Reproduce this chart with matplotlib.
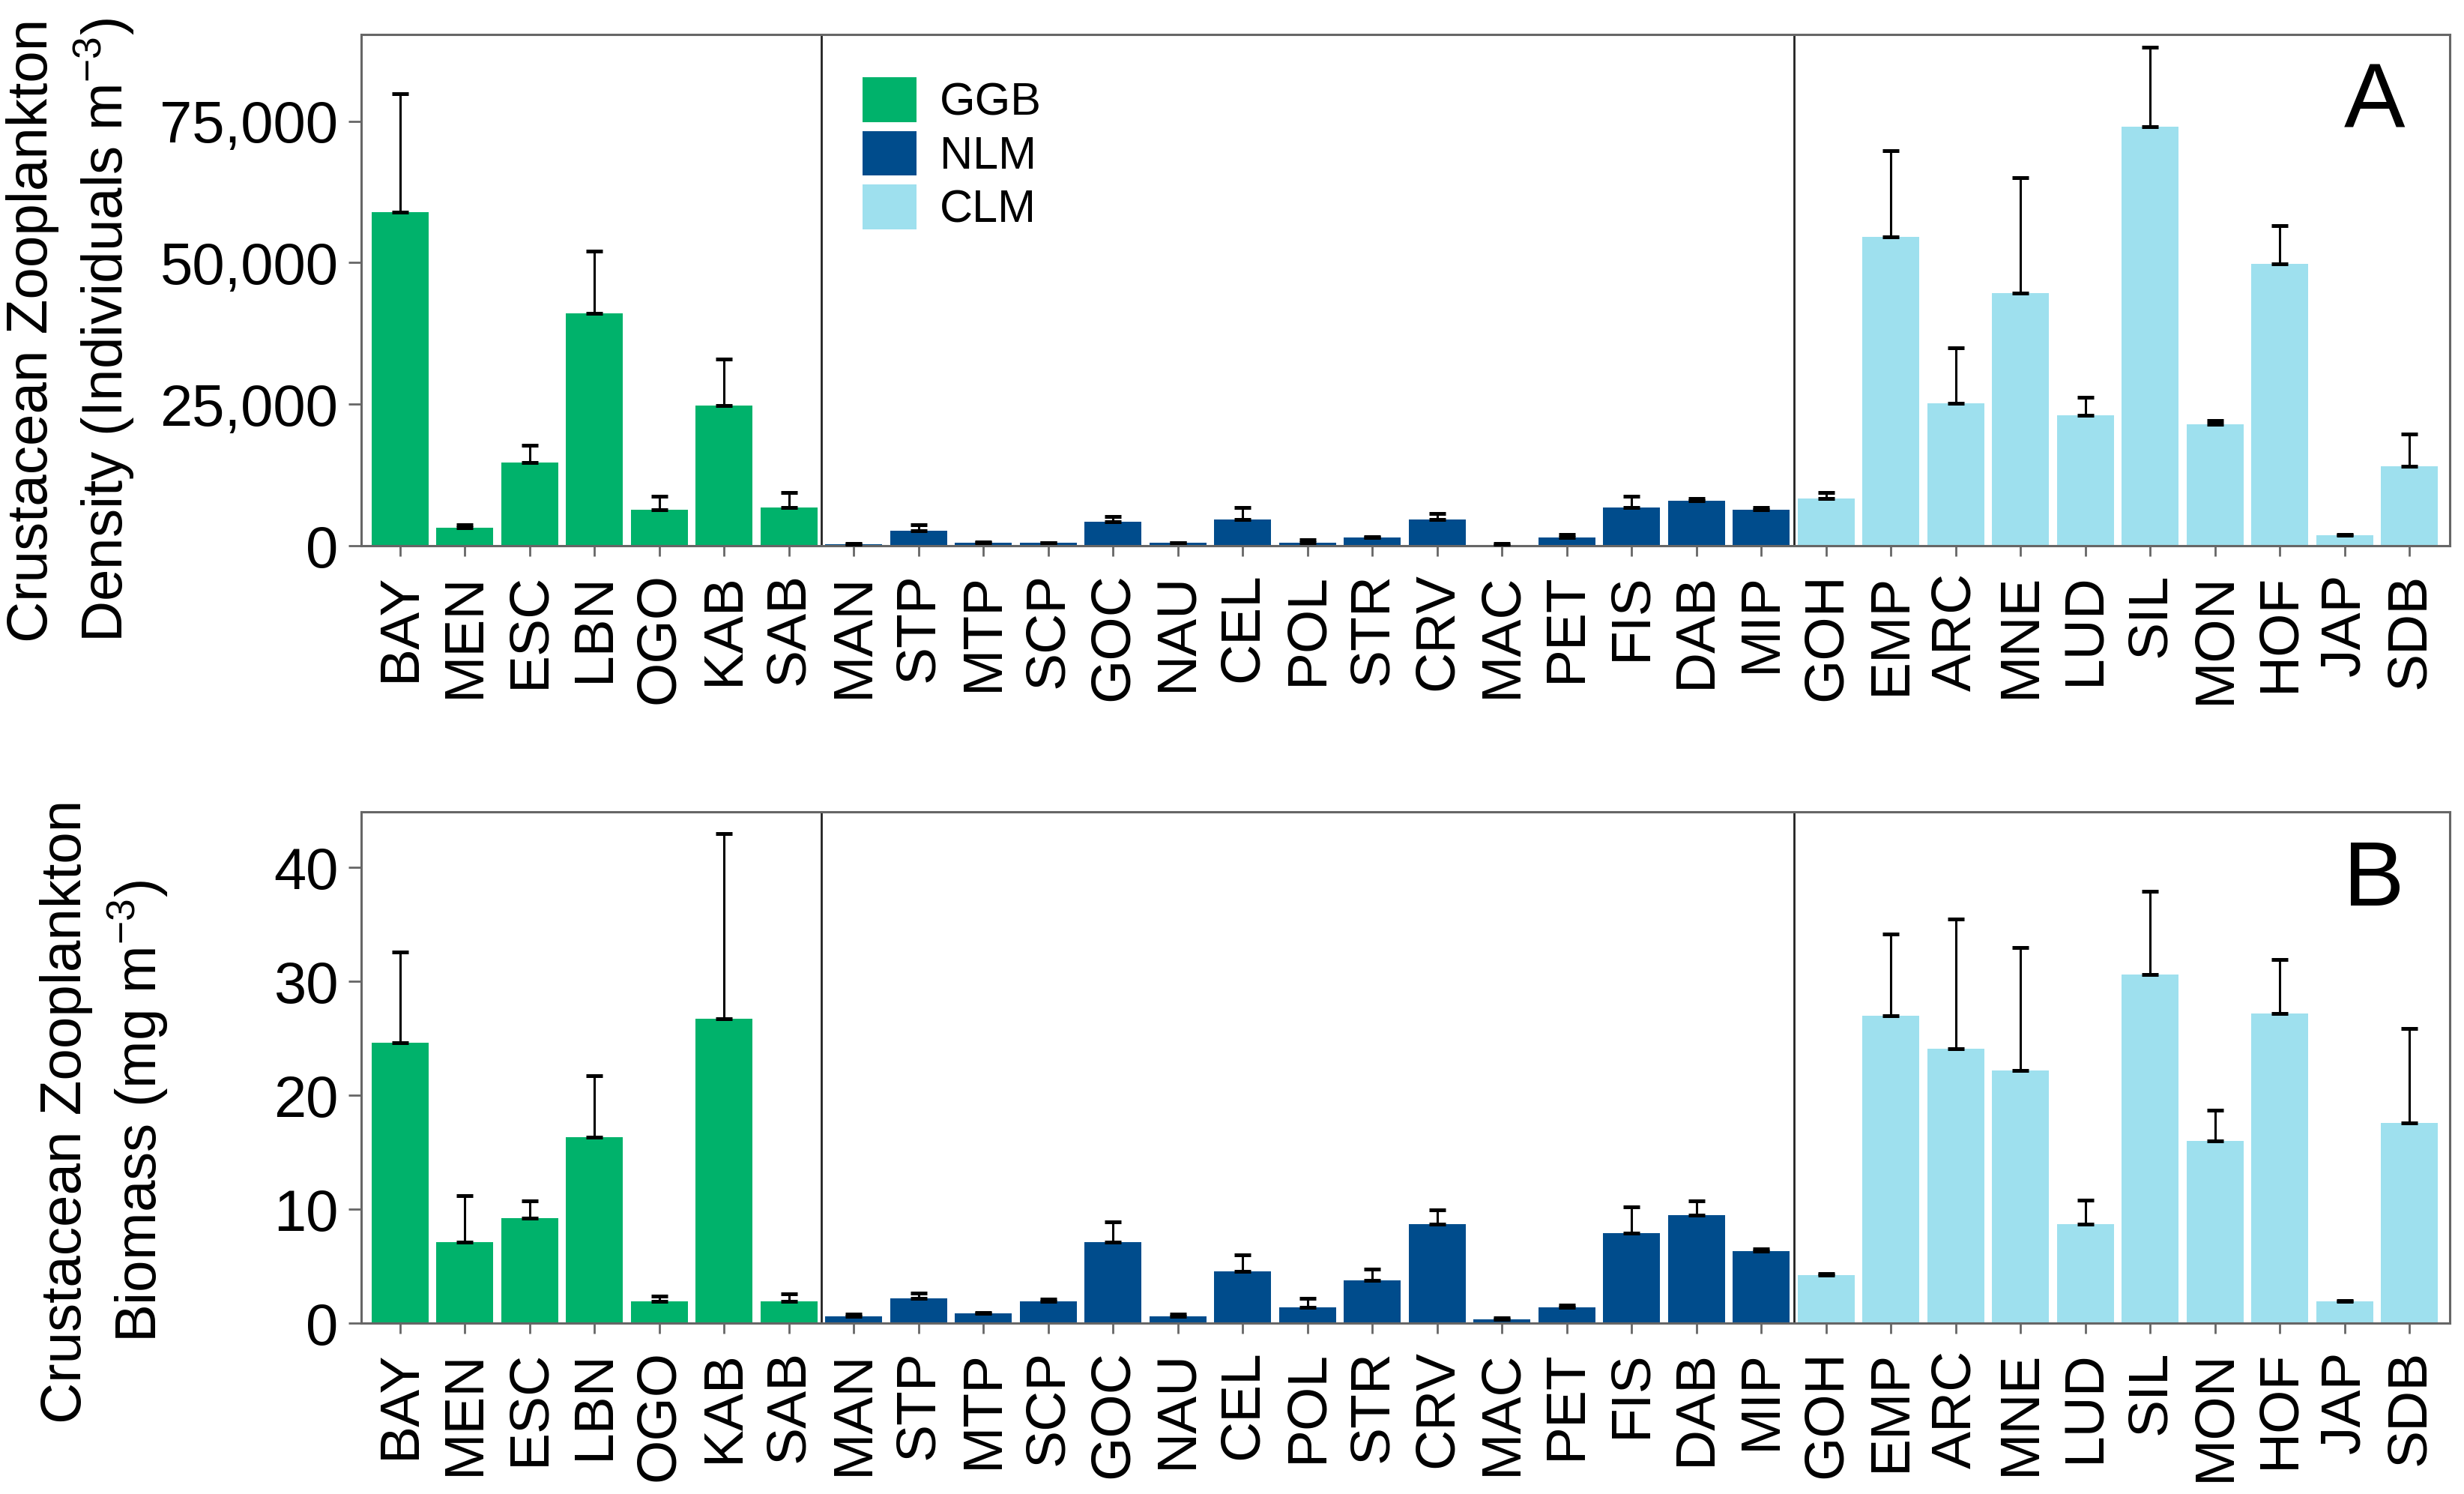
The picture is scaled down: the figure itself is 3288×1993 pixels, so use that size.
import numpy as np
import matplotlib
matplotlib.use('Agg')
import matplotlib.pyplot as plt
from matplotlib.patches import Patch
from matplotlib.ticker import FuncFormatter

plt.rcParams['font.family'] = ['Liberation Sans', 'DejaVu Sans']
plt.rcParams['mathtext.fontset'] = 'custom'
plt.rcParams['mathtext.rm'] = 'Liberation Sans'
plt.rcParams['mathtext.it'] = 'Liberation Sans'

# lake groups
ggb_sites = ['BAY', 'MEN', 'ESC', 'LBN', 'OGO', 'KAB', 'SAB']
nlm_sites = ['MAN', 'STP', 'MTP', 'SCP', 'GOC', 'NAU', 'CEL', 'POL', 'STR', 'CRV', 'MAC', 'PET', 'FIS', 'DAB', 'MIP']
clm_sites = ['GOH', 'EMP', 'ARC', 'MNE', 'LUD', 'SIL', 'MON', 'HOF', 'JAP', 'SDB']

# density (individuals m-3), mean and upper error
dens_ggb = [58900, 3200, 14700, 41000, 6300, 24700, 6800]
dens_ggb_se = [21000, 500, 3000, 11000, 2400, 8300, 2600]
dens_nlm = [300, 2700, 500, 500, 4200, 500, 4700, 500, 1500, 4700, 200, 1500, 6800, 7900, 6300]
dens_nlm_se = [150, 1000, 150, 100, 950, 100, 2100, 550, 100, 1000, 150, 500, 1900, 400, 400]
dens_clm = [8400, 54600, 25100, 44600, 23000, 74000, 21500, 49800, 1900, 14000]
dens_clm_se = [1000, 15200, 9900, 20400, 3200, 14100, 600, 6800, 100, 5800]

# biomass (mg m-3), mean and upper error
bio_ggb = [24.6, 7.1, 9.2, 16.3, 1.9, 26.7, 1.9]
bio_ggb_se = [8.0, 4.1, 1.5, 5.4, 0.45, 16.3, 0.7]
bio_nlm = [0.6, 2.2, 0.85, 1.9, 7.1, 0.6, 4.55, 1.4, 3.75, 8.7, 0.3, 1.4, 7.9, 9.5, 6.3]
bio_nlm_se = [0.2, 0.45, 0.05, 0.2, 1.8, 0.2, 1.45, 0.75, 1.0, 1.25, 0.15, 0.2, 2.3, 1.25, 0.2]
bio_clm = [4.2, 27.0, 24.1, 22.2, 8.7, 30.6, 16.0, 27.2, 1.9, 17.6]
bio_clm_se = [0.15, 7.2, 11.4, 10.8, 2.1, 7.3, 2.7, 4.7, 0.1, 8.3]

group_names = ['GGB', 'NLM', 'CLM']
group_colors = ['#00b26b', '#004c8c', '#9ee0ee']

sites = ggb_sites + nlm_sites + clm_sites
x = np.arange(len(sites))
n1 = len(ggb_sites)
n2 = len(ggb_sites) + len(nlm_sites)
colors = [group_colors[0]] * len(ggb_sites) + [group_colors[1]] * len(nlm_sites) + [group_colors[2]] * len(clm_sites)

fig = plt.figure(figsize=(16.44, 9.965), dpi=200)
ax1 = fig.add_axes([0.1466, 0.6347, 0.8476, 0.3422])
ax2 = fig.add_axes([0.1466, 0.1144, 0.8476, 0.3422])


def draw_panel(ax, vals, errs, ymax, yticks, letter):
    vals = np.array(vals)
    errs = np.array(errs)
    ax.bar(x, vals, width=0.88, color=colors, zorder=2,
           yerr=[np.zeros_like(errs), errs],
           error_kw=dict(ecolor='black', elinewidth=1.1, capsize=4, capthick=1.8, zorder=3))
    ax.axvline(n1 - 0.5, color='#222222', lw=1.0, zorder=1)
    ax.axvline(n2 - 0.5, color='#222222', lw=1.0, zorder=1)
    ax.set_xlim(-0.6, len(sites) - 1 + 0.62)
    ax.set_ylim(0, ymax)
    ax.set_yticks(yticks)
    ax.set_xticks(x)
    ax.set_xticklabels(sites, rotation=90, fontsize=27)
    for s in ax.spines.values():
        s.set_color('#666666')
        s.set_linewidth(1.1)
    ax.tick_params(axis='x', length=5, width=1.0, color='#666666', pad=8)
    ax.tick_params(axis='y', length=6, width=1.0, color='#666666', pad=5, labelsize=28)
    ax.text(0.9638, 0.817, letter, transform=ax.transAxes, fontsize=44,
            ha='center', va='baseline')


draw_panel(ax1, dens_ggb + dens_nlm + dens_clm, dens_ggb_se + dens_nlm_se + dens_clm_se,
           90300, [0, 25000, 50000, 75000], 'A')
ax1.yaxis.set_major_formatter(FuncFormatter(lambda v, p: '{:,.0f}'.format(v)))

draw_panel(ax2, bio_ggb + bio_nlm + bio_clm, bio_ggb_se + bio_nlm_se + bio_clm_se,
           44.9, [0, 10, 20, 30, 40], 'B')

handles = [Patch(facecolor=c, edgecolor='none') for c in group_colors]
ax1.legend(handles, group_names, loc='upper left', bbox_to_anchor=(0.240, 0.916),
           frameon=False, fontsize=22, handlelength=1.18, handleheight=1.12,
           labelspacing=0.13, handletextpad=0.5, borderpad=0, borderaxespad=0)

fig.text(0.0289, 0.779, 'Crustacean Zooplankton\nDensity (Individuals m$^{\u2212 3}$)',
         rotation=90, ha='center', va='center', fontsize=27.5, linespacing=1.25,
         multialignment='center')
fig.text(0.0426, 0.256, 'Crustacean Zooplankton\nBiomass (mg m$^{\u2212 3}$)',
         rotation=90, ha='center', va='center', fontsize=27.5, linespacing=1.25,
         multialignment='center')

plt.savefig('out.png', dpi=200)
